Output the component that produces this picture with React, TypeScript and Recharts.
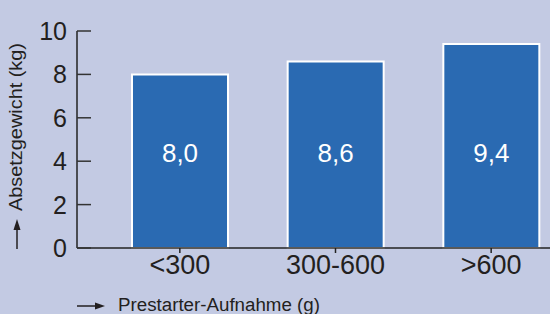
import React from 'react';
import { BarChart, Bar, XAxis, YAxis, LabelList, Label } from 'recharts';

const categories = ['<300', '300-600', '>600'];
const values = [8.0, 8.6, 9.4];
const valueLabels = ['8,0', '8,6', '9,4'];
const yTicks = [0, 2, 4, 6, 8, 10];
const xTitle = 'Prestarter-Aufnahme (g)';
const yTitle = 'Absetzgewicht (kg)';

const data = categories.map((c, i) => ({ cat: c, value: values[i], label: valueLabels[i] }));

const FONT = '"Liberation Sans", Arial, Helvetica, sans-serif';
const TEXT = '#231f20';
const BG = '#c3cae3';
const BAR = '#2a6ab2';

const YTick = (props: any) => {
  const { x, y, payload } = props;
  const axisX = x + 10;
  return (
    <g>
      <line x1={axisX} x2={axisX + 14} y1={y} y2={y} stroke="#333" strokeWidth={1.5} />
      <text x={x} y={y} textAnchor="end" dominantBaseline="central" fontSize={25} fill={TEXT} fontFamily={FONT}>
        {payload.value}
      </text>
    </g>
  );
};

const ValueLabel = (props: any) => {
  const { x, y, width, height, index } = props;
  const bottom = y + height;
  return (
    <text x={x + width / 2} y={bottom - 95} textAnchor="middle" dominantBaseline="central" fontSize={26} fill="#fff" fontFamily={FONT}>
      {data[index].label}
    </text>
  );
};

const XTitle = (props: any) => {
  const { viewBox } = props;
  const x0 = viewBox.x;
  const y0 = viewBox.y;
  return (
    <g>
      <line x1={x0} x2={x0 + 20} y1={y0 + 58} y2={y0 + 58} stroke={TEXT} strokeWidth={1.5} />
      <polygon points={`${x0 + 18},${y0 + 54.5} ${x0 + 28},${y0 + 58} ${x0 + 18},${y0 + 61.5}`} fill={TEXT} />
      <text
        x={x0 + 41}
        y={y0 + 62.5}
        fontSize={18}
        textLength={202}
        lengthAdjust="spacingAndGlyphs"
        fill={TEXT}
        fontFamily={FONT}
      >
        {xTitle}
      </text>
    </g>
  );
};

const YTitle = (props: any) => {
  const { viewBox } = props;
  const cx = 17;
  const bottom = viewBox.y + viewBox.height;
  const textStart = 211;
  return (
    <g>
      <line x1={cx} x2={cx} y1={bottom + 1} y2={bottom - 20} stroke={TEXT} strokeWidth={1.5} />
      <polygon points={`${cx - 3.5},${bottom - 18} ${cx},${bottom - 29} ${cx + 3.5},${bottom - 18}`} fill={TEXT} />
      <text
        x={22}
        y={textStart}
        transform={`rotate(-90, 22, ${textStart})`}
        fontSize={17.5}
        textLength={168}
        lengthAdjust="spacingAndGlyphs"
        fill={TEXT}
        fontFamily={FONT}
      >
        {yTitle}
      </text>
    </g>
  );
};

export default function App() {
  return (
    <div style={{ position: 'absolute', left: 0, top: 0, width: 550, height: 314, overflow: 'hidden', background: BG }}>
      <BarChart
        width={569}
        height={314}
        data={data}
        margin={{ top: 31, right: 0, bottom: 0, left: 0 }}
        barSize={96}
      >
        <XAxis
          dataKey="cat"
          height={66}
          padding={{ left: 25, right: 0 }}
          axisLine={{ stroke: '#222', strokeWidth: 1.5 }}
          tickLine={{ stroke: '#222', strokeWidth: 1.5 }}
          tickSize={5}
          tickMargin={2}
          tick={{ fontSize: 27, fill: TEXT, fontFamily: FONT }}
          interval={0}
        >
          <Label content={<XTitle />} />
        </XAxis>
        <YAxis
          width={77}
          domain={[0, 10]}
          ticks={yTicks}
          interval={0}
          axisLine={{ stroke: '#222', strokeWidth: 1.5 }}
          tickLine={false}
          tickSize={0}
          tickMargin={10}
          tick={<YTick />}
        >
          <Label content={<YTitle />} />
        </YAxis>
        <Bar dataKey="value" fill={BAR} stroke="#fff" strokeWidth={2} isAnimationActive={false}>
          <LabelList dataKey="label" content={<ValueLabel />} />
        </Bar>
      </BarChart>
    </div>
  );
}
